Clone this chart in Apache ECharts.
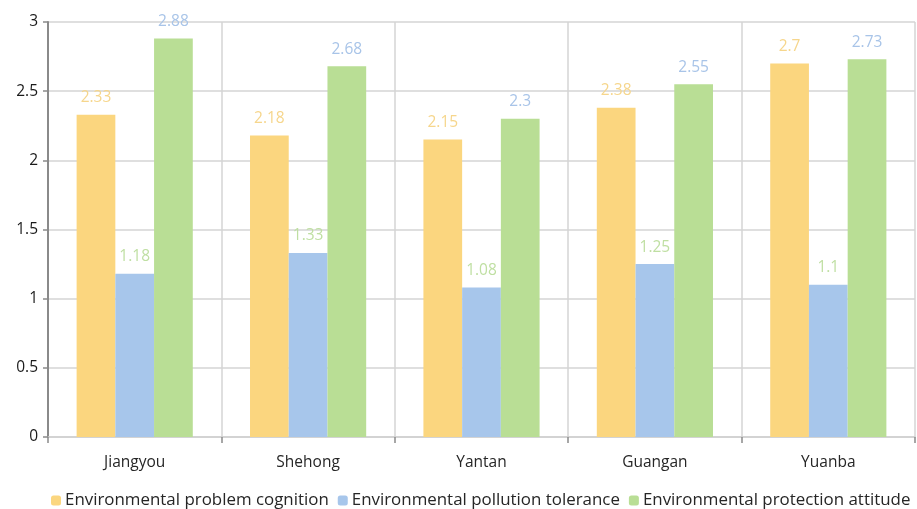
<!DOCTYPE html>
<html><head><meta charset="utf-8">
<script src="https://cdn.jsdelivr.net/npm/echarts@6/dist/echarts.min.js"></script>
<style>html,body{margin:0;padding:0;background:#fff}#c{width:917px;height:509px}</style>
</head><body><div id="c"></div>
<script>
const categories = ['Jiangyou','Shehong','Yantan','Guangan','Yuanba'];
const cognition = [2.33, 2.18, 2.15, 2.38, 2.7];
const tolerance = [1.18, 1.33, 1.08, 1.25, 1.1];
const attitude = [2.88, 2.68, 2.3, 2.55, 2.73];
const seriesNames = ['Environmental problem cognition','Environmental pollution tolerance','Environmental protection attitude'];
const yTicks = [0, 0.5, 1, 1.5, 2, 2.5, 3];

const font = '"Open Sans", sans-serif';
const chart = echarts.init(document.getElementById('c'));
function mk(name, data, color, labelColor) {
  return {
    name, type: 'bar', data, barGap: '0%', barCategoryGap: '33%',
    itemStyle: { color },
    label: { show: true, position: 'top', distance: 9, color: labelColor, fontSize: 15.5, fontFamily: font }
  };
}
chart.setOption({
  animation: false,
  grid: { left: 48, right: 2, top: 22, bottom: 72, containLabel: false },
  legend: {
    bottom: 0, left: 51, width: 900, padding: 0, itemWidth: 10, itemHeight: 10, itemGap: 9,
    textStyle: { fontSize: 16.9, color: '#262626', fontFamily: font, padding: [0,0,0,-1] },
    data: seriesNames
  },
  xAxis: {
    type: 'category', data: categories,
    axisLine: { lineStyle: { color: '#d0d0d0', width: 1.5 } },
    axisTick: { show: true, length: 6, lineStyle: { color: '#8a8a8a', width: 1.5 } },
    splitLine: { show: true, lineStyle: { color: '#d4d4d4', width: 1.5 } },
    axisLabel: { fontSize: 15.5, color: '#262626', fontFamily: font, margin: 18 }
  },
  yAxis: {
    type: 'value', min: yTicks[0], max: yTicks[yTicks.length-1], interval: 0.5,
    axisLine: { show: true, lineStyle: { color: '#8a8a8a', width: 2 } },
    axisTick: { show: true, length: 5, lineStyle: { color: '#8a8a8a', width: 1.5 } },
    splitLine: { show: true, lineStyle: { color: '#d4d4d4', width: 1.5 } },
    axisLabel: { fontSize: 15.5, color: '#1a1a1a', fontFamily: font, margin: 10 }
  },
  series: [
    mk(seriesNames[0], cognition, '#FBD67F', '#F6D68C'),
    mk(seriesNames[1], tolerance, '#A7C6EB', '#BFDFA2'),
    mk(seriesNames[2], attitude, '#B9DE95', '#A8C4E8')
  ]
});
</script></body></html>
